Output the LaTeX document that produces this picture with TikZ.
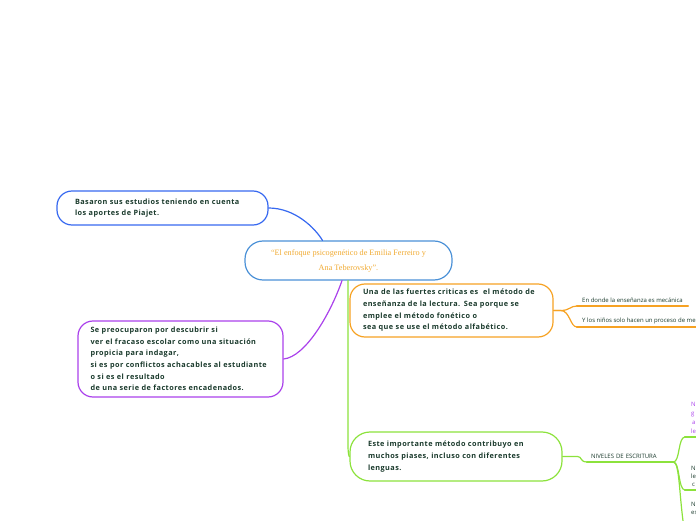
\documentclass[tikz,border=0pt]{standalone}
\usepackage{fontspec}
\setmainfont{Liberation Serif}
\setsansfont{Open Sans}
\newfontfamily\mapsans[LetterSpace=6]{Open Sans}
\definecolor{inkdark}{RGB}{26,58,44}
\definecolor{topicgold}{RGB}{240,170,50}
\definecolor{mapblue}{RGB}{55,105,240}
\definecolor{coreblue}{RGB}{75,145,215}
\definecolor{mappurple}{RGB}{170,65,235}
\definecolor{maporange}{RGB}{246,162,35}
\definecolor{mapgreen}{RGB}{140,226,60}
\tikzset{idea/.style={draw,rounded corners=15pt,line width=1.2pt,align=left,inner ysep=0pt,
   text=inkdark,font=\mapsans\bfseries\fontsize{7.3}{11.7}\selectfont},
 leaf/.style={inner xsep=5pt,inner ysep=3pt,align=left,text=inkdark,
   font=\sffamily\fontsize{6}{8.5}\selectfont},
 link/.style={line width=1.2pt},
 rule/.style={line width=2.2pt},
 every picture/.style={line join=round,line cap=round}}
\begin{document}
\begin{tikzpicture}[x=1pt,y=1pt]
\useasboundingbox (0,0) rectangle (696,520);
\clip (0,0) rectangle (696,520);
\node[draw=coreblue,rounded corners=18pt,line width=1.2pt,minimum width=207pt,minimum height=39pt,
  inner sep=0pt,align=center,text=topicgold,font=\fontsize{8.2}{15}\selectfont] (core) at (348.5,259.5)
  {“El enfoque psicogenético de Emilia Ferreiro y\\Ana Teberovsky”.};
\node[idea,draw=mapblue,text width=175pt,inner xsep=18pt,minimum height=34pt] (piajet) at (162.5,312)
  {Basaron sus estudios teniendo en cuenta\\los aportes de Piajet.};
\node[idea,draw=mappurple,text width=180pt,inner xsep=12.5pt,minimum height=76pt] (fracaso) at (180.5,161)
  {Se preocuparon por descubrir si\\ver el fracaso escolar como una situación\\propicia para indagar,\\si es por conflictos achacables al estudiante\\o si es el resultado\\de una serie de factores encadenados.};
\node[idea,draw=maporange,text width=177pt,inner xsep=13pt,minimum height=53pt] (critica) at (451.5,209.5)
  {Una de las fuertes criticas es \ el método de\\enseñanza de la lectura. Sea porque se\\emplee el método fonético o\\sea que se use el método alfabético.};
\node[idea,draw=mapgreen,rounded corners=20pt,text width=176pt,inner xsep=18pt,minimum height=49pt] (metodo) at (456,63.5)
  {Este importante método contribuyo en\\muchos piases, incluso con diferentes\\lenguas.};
\node[leaf,anchor=south west] (mecanica) at (577,214) {En donde la enseñanza es mecánica};
\node[leaf,anchor=south west] (proceso) at (577,193) {Y los niños solo hacen un proceso de me};
\node[leaf,anchor=south west,inner xsep=4pt,text width=78pt] (niveles) at (587,58) {NIVELES DE ESCRITURA};
\node[leaf,anchor=south west,inner xsep=6pt,text=mappurple,font=\sffamily\fontsize{6}{9}\selectfont] (nivA) at (685,83) {N\\g\\\,a\\le};
\node[leaf,anchor=south west,inner xsep=6pt,font=\sffamily\fontsize{6}{8}\selectfont] (nivB) at (685,30) {N\\le\\\,c};
\node[leaf,anchor=north west,inner xsep=6pt,font=\sffamily\fontsize{6}{8}\selectfont] (nivC) at (685,21) {N\\es};
\coordinate (nivCfoot) at (685,-14);
\draw[link,mapblue] (piajet.east) .. controls (295,312) and (315,292) .. ([xshift=-26pt]core.north);
\draw[link,mappurple] (fracaso.east) .. controls (305,163) and (330,205) .. ([xshift=-6.5pt]core.south);
\draw[link,mapgreen] ([xshift=-0.5pt]core.south) -- (348,75) .. controls (348,66) and (349,63.5) .. (metodo.west);
\draw[link,maporange] (critica.east) -- ++(7,0) .. controls (570,209.5) and (570,214) .. (mecanica.south west);
\draw[link,maporange] (critica.east) -- ++(7,0) .. controls (570,209.5) and (570,193) .. (proceso.south west);
\draw[rule,maporange] (mecanica.south west) -- (mecanica.south east);
\draw[rule,maporange] (proceso.south west) -- (proceso.south east);
\draw[link,mapgreen] (metodo.east) -- ++(15,0) .. controls (582,63.5) and (580,58) .. (niveles.south west);
\draw[rule,mapgreen] (niveles.south west) -- (niveles.south east);
\draw[link,mapgreen] (niveles.south east) .. controls (680,58) and (678,83) .. (nivA.south west);
\draw[link,mapgreen] (niveles.south east) .. controls (680,58) and (678,30) .. (nivB.south west);
\draw[link,mapgreen] (niveles.south east) .. controls (680,58) and (679,20) .. (nivCfoot);
\draw[rule,mapgreen] (nivA.south west) -- ++(20,0);
\draw[rule,mapgreen] (nivB.south west) -- ++(20,0);
\end{tikzpicture}
\end{document}
